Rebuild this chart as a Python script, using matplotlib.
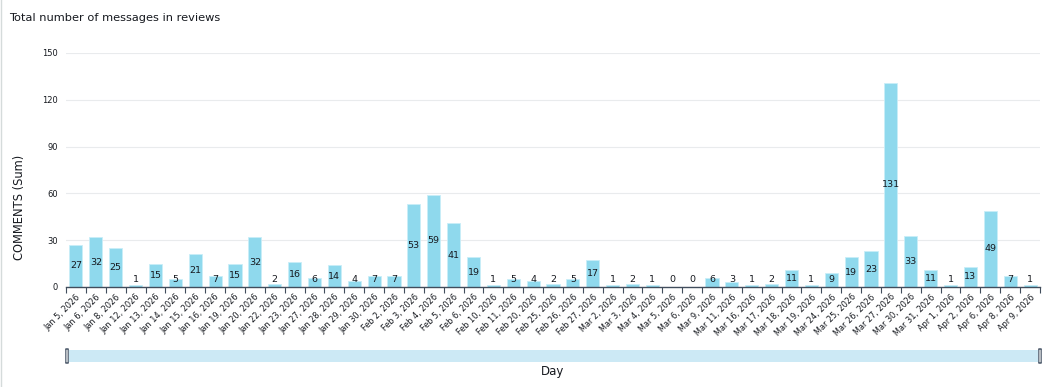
import numpy as np
import matplotlib
matplotlib.use('Agg')
import matplotlib.pyplot as plt
from matplotlib.patches import Rectangle, FancyBboxPatch
from matplotlib.lines import Line2D

# -------------------------------------------------------------------------
days = ["Jan 5", "Jan 6", "Jan 8", "Jan 12", "Jan 13", "Jan 14", "Jan 15",
        "Jan 16", "Jan 19", "Jan 20", "Jan 22", "Jan 23", "Jan 27", "Jan 28",
        "Jan 29", "Jan 30", "Feb 2", "Feb 3", "Feb 4", "Feb 5", "Feb 6",
        "Feb 10", "Feb 11", "Feb 20", "Feb 25", "Feb 26", "Feb 27", "Mar 2",
        "Mar 3", "Mar 4", "Mar 5", "Mar 6", "Mar 9", "Mar 11", "Mar 16",
        "Mar 17", "Mar 18", "Mar 19", "Mar 24", "Mar 25", "Mar 26", "Mar 27",
        "Mar 30", "Mar 31", "Apr 1", "Apr 2", "Apr 6", "Apr 8", "Apr 9"]
comments = [27, 32, 25, 1, 15, 5, 21, 7, 15, 32, 2, 16, 6, 14, 4, 7, 7,
            53, 59, 41, 19, 1, 5, 4, 2, 5, 17, 1, 2, 1, 0, 0, 6, 3, 1, 2,
            11, 1, 9, 19, 23, 131, 33, 11, 1, 13, 49, 7, 1]
y_ticks = [0, 30, 60, 90, 120, 150]
year = "2026"
# -------------------------------------------------------------------------

W, H = 1057, 387
BAR_COLOR = '#8fd9ed'
TEXT_COLOR = '#16191f'

plt.rcParams['font.family'] = ['DejaVu Sans']

fig = plt.figure(figsize=(W / 100, H / 100), dpi=100)
ax = fig.add_axes([66 / W, 1 - 287 / H, (1040 - 66) / W, (287 - 53) / H])

x = np.arange(len(days))
ax.bar(x, comments, width=0.66, color=BAR_COLOR, edgecolor='#c9eef8',
       linewidth=0.6, zorder=2)

for xi, v in zip(x, comments):
    ax.text(xi, max(v / 2, 4.5), str(v), ha='center', va='center',
            fontsize=6.8, color=TEXT_COLOR, zorder=3)

ax.set_xlim(-0.5, len(days) - 0.5)
ax.set_ylim(0, 150)
ax.set_yticks(y_ticks)
ax.set_yticklabels([str(t) for t in y_ticks], fontsize=6, color=TEXT_COLOR)
ax.tick_params(axis='y', length=0, pad=6)
ax.grid(axis='y', color='#e9ebed', linewidth=0.8, zorder=0)
ax.set_axisbelow(True)

# ticks at category boundaries, labels under each bar
ax.set_xticks(np.arange(len(days) + 1) - 0.5)
ax.set_xticklabels([])
ax.tick_params(axis='x', length=4, width=0.8, color='#414d5c')
ax.set_xticks(x, minor=True)
ax.set_xticklabels([f"{d}, {year}" for d in days], minor=True, rotation=45,
                   ha='right', rotation_mode='anchor', fontsize=5.9,
                   color=TEXT_COLOR)
ax.tick_params(axis='x', which='minor', length=0, pad=4)

for s in ['top', 'right', 'left']:
    ax.spines[s].set_visible(False)
ax.spines['bottom'].set_color('#414d5c')
ax.spines['bottom'].set_linewidth(1.0)

# y label sits centred on the plot + tick label block
fig.text(20 / W, 1 - 207 / H, "COMMENTS (Sum)", fontsize=8.3,
         color=TEXT_COLOR, rotation=90, ha='center', va='center')

fig.text(9 / W, 1 - 18 / H, "Total number of messages in reviews",
         fontsize=8.2, color=TEXT_COLOR, ha='left', va='center')

# scroll bar under the axis
fig.patches.append(Rectangle((67 / W, 1 - 362 / H), (1040 - 67) / W, 12 / H,
                             transform=fig.transFigure, facecolor='#cce9f5',
                             edgecolor='none'))
for hx in (67, 1040):
    fig.patches.append(FancyBboxPatch((hx / W - 1.5 / W, 1 - 363 / H),
                                      3 / W, 14 / H,
                                      boxstyle='round,pad=0,rounding_size=0.003',
                                      transform=fig.transFigure,
                                      facecolor='#b7bcc2', edgecolor='#5f6b7a',
                                      linewidth=0.6))
fig.text(553 / W, 1 - 372 / H, "Day", fontsize=8.5, color=TEXT_COLOR,
         ha='center', va='center')

# card border on the left
fig.add_artist(Line2D([1 / W, 1 / W], [0, 1], transform=fig.transFigure,
                      color='#d5dbdb', linewidth=1))

fig.savefig('out.png', dpi=100)
